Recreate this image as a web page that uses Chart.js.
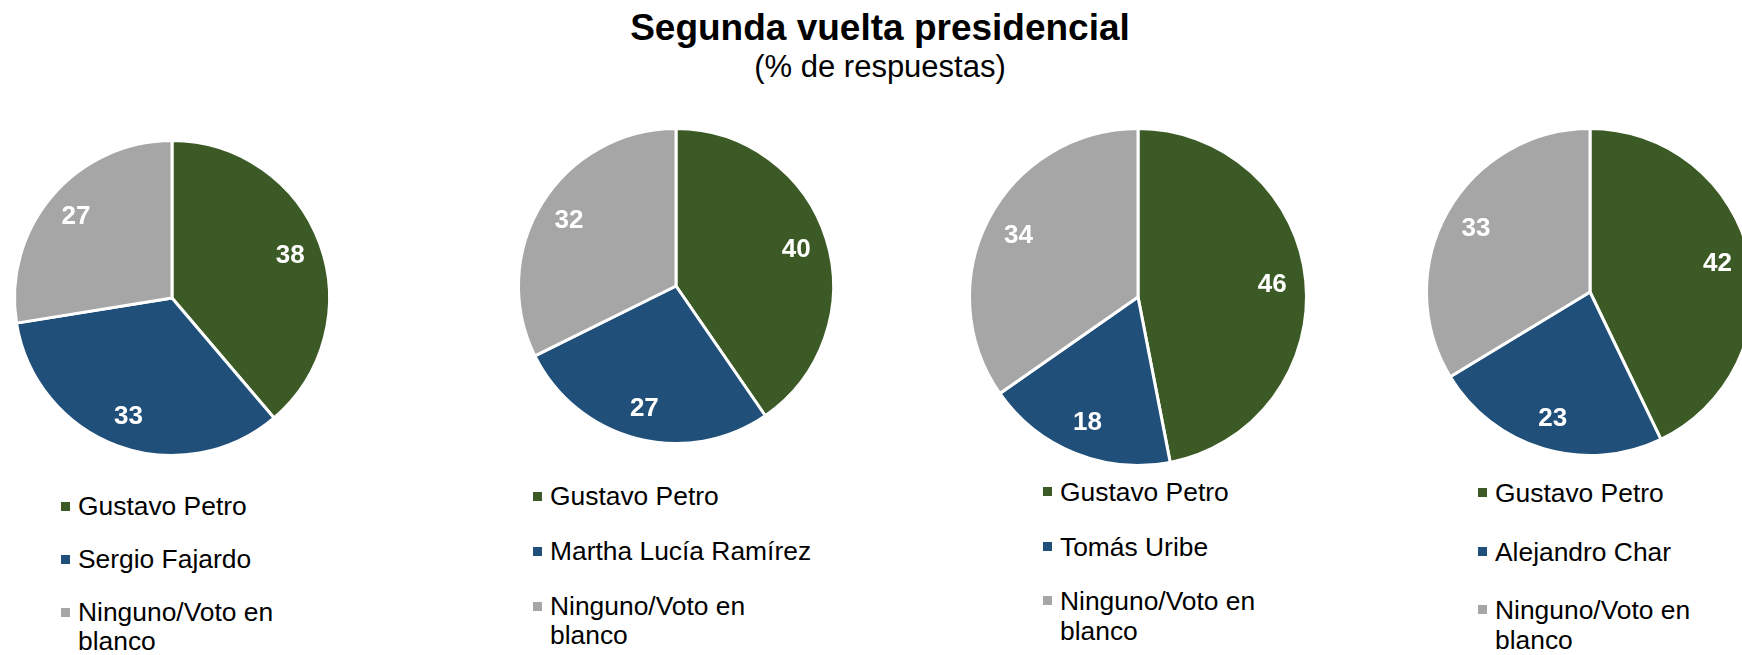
<!DOCTYPE html>
<html>
<head>
<meta charset="utf-8">
<script src="https://cdn.jsdelivr.net/npm/chart.js@4.4.1/dist/chart.umd.min.js"></script>
<style>
  html, body { margin: 0; padding: 0; background: #fff; }
  body { width: 1742px; height: 655px; overflow: hidden; position: relative;
         font-family: "Liberation Sans", Arial, sans-serif; color: #000; }
  .title { position: absolute; left: 380px; width: 1000px; text-align: center; top: 6px;
           font-size: 37px; font-weight: bold; line-height: 44px; }
  .subtitle { position: absolute; left: 380px; width: 1000px; text-align: center; top: 48px;
              font-size: 31px; line-height: 38px; }
  canvas { position: absolute; }
  .legend { position: absolute; font-size: 26.4px; line-height: 29px; }
  .item { display: flex; align-items: flex-start; }
  .box { width: 9px; height: 9px; margin-top: 10px; margin-right: 8px; flex: none; }
  .txt { width: 272px; }
</style>
</head>
<body>
<div class="title" id="title"></div>
<div class="subtitle" id="subtitle"></div>
<div id="holder"></div>
<script>
const titleText = "Segunda vuelta presidencial";
const subtitleText = "(% de respuestas)";
const candidateA = "Gustavo Petro";
const rivals = ["Sergio Fajardo", "Martha Lucía Ramírez", "Tomás Uribe", "Alejandro Char"];
const noneLabel = "Ninguno/Voto en blanco";
const petroValues = [38, 40, 46, 42];
const rivalValues = [33, 27, 18, 23];
const noneValues = [27, 32, 34, 33];
const sliceColors = ["#3B5A25", "#204F79", "#A6A6A6"];

// layout (positions only)
const pies = [
  { cx: 171.5, cy: 298, r: 156, legX: 61, legY: 492, gap: 24, lh: 29 },
  { cx: 676,   cy: 286, r: 156, legX: 533, legY: 482, gap: 26, lh: 29 },
  { cx: 1138,  cy: 297, r: 167, legX: 1043, legY: 477, gap: 24.5, lh: 30 },
  { cx: 1590,  cy: 292, r: 162, legX: 1478, legY: 478, gap: 28.5, lh: 30 }
];

document.getElementById('title').textContent = titleText;
document.getElementById('subtitle').textContent = subtitleText;

const labelPlugin = {
  id: 'sliceLabels',
  afterDatasetsDraw(chart) {
    const ctx = chart.ctx;
    const meta = chart.getDatasetMeta(0);
    const data = chart.data.datasets[0].data;
    ctx.save();
    ctx.font = 'bold 26px "Liberation Sans", Arial, sans-serif';
    ctx.fillStyle = '#ffffff';
    ctx.textAlign = 'center';
    ctx.textBaseline = 'middle';
    meta.data.forEach((arc, i) => {
      const p = arc.getProps(['x', 'y', 'startAngle', 'endAngle', 'outerRadius'], true);
      const mid = (p.startAngle + p.endAngle) / 2;
      const rr = p.outerRadius * 0.8;
      ctx.fillText(String(data[i]), p.x + Math.cos(mid) * rr, p.y + Math.sin(mid) * rr + 1);
    });
    ctx.restore();
  }
};

const holder = document.getElementById('holder');
pies.forEach((pc, k) => {
  const labels = [candidateA, rivals[k], noneLabel];
  const values = [petroValues[k], rivalValues[k], noneValues[k]];
  const size = Math.round(2 * (pc.r + 12));
  const cv = document.createElement('canvas');
  cv.width = size; cv.height = size;
  cv.style.width = size + 'px'; cv.style.height = size + 'px';
  cv.style.left = (pc.cx - size / 2) + 'px';
  cv.style.top = (pc.cy - size / 2) + 'px';
  holder.appendChild(cv);
  new Chart(cv.getContext('2d'), {
    type: 'pie',
    data: {
      labels: labels,
      datasets: [{
        data: values,
        backgroundColor: sliceColors,
        borderColor: '#ffffff',
        borderWidth: 3
      }]
    },
    options: {
      responsive: false,
      animation: false,
      radius: pc.r + 1.5,
      layout: { padding: 0 },
      plugins: { legend: { display: false }, tooltip: { enabled: false }, title: { display: false } }
    },
    plugins: [labelPlugin]
  });

  const leg = document.createElement('div');
  leg.className = 'legend';
  leg.style.left = pc.legX + 'px';
  leg.style.top = pc.legY + 'px';
  leg.style.lineHeight = pc.lh + 'px';
  labels.forEach((lb, i) => {
    const it = document.createElement('div');
    it.className = 'item';
    it.style.marginBottom = pc.gap + 'px';
    const bx = document.createElement('div');
    bx.className = 'box';
    bx.style.background = sliceColors[i];
    const tx = document.createElement('div');
    tx.className = 'txt';
    tx.textContent = lb;
    it.appendChild(bx); it.appendChild(tx);
    leg.appendChild(it);
  });
  holder.appendChild(leg);
});
</script>
</body>
</html>
